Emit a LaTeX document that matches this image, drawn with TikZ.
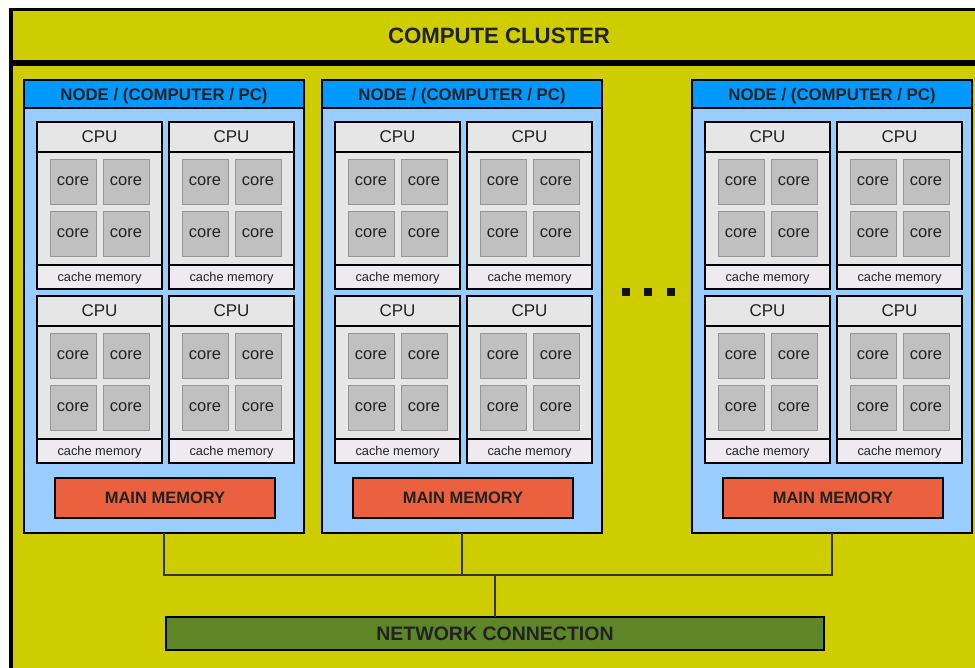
\documentclass[tikz,border=0pt]{standalone}
\usepackage{fontspec}
\setmainfont{Liberation Sans}
\definecolor{clyellow}{RGB}{205,205,0}
\definecolor{nodebody}{RGB}{153,204,255}
\definecolor{nodehead}{RGB}{0,153,255}
\definecolor{cpugray}{RGB}{230,230,230}
\definecolor{coregray}{RGB}{192,192,192}
\definecolor{coreline}{RGB}{150,150,150}
\definecolor{cachefill}{RGB}{238,234,240}
\definecolor{memfill}{RGB}{235,97,64}
\definecolor{netfill}{RGB}{94,133,38}
\definecolor{txt}{RGB}{34,34,34}
\definecolor{wire}{RGB}{51,51,51}
\begin{document}
\begin{tikzpicture}[x=1pt,y=-1pt,
  every node/.style={inner sep=0pt, outer sep=0pt, text=txt},
  titletext/.style={font=\fontsize{22.2}{26}\selectfont\bfseries},
  nodebox/.style={draw=black, line width=2, fill=nodebody, rectangle, anchor=north west},
  nodehd/.style={draw=black, line width=2, fill=nodehead, rectangle, anchor=north west, text depth=0pt, font=\fontsize{16.8}{20}\selectfont\bfseries},
  cpuhd/.style={draw=black, line width=2.6, fill=cpugray, rectangle, anchor=north west, minimum width=125, minimum height=30, font=\fontsize{17}{20}\selectfont},
  cpubody/.style={draw=black, line width=2.6, fill=cpugray, rectangle, anchor=north west, minimum width=125, minimum height=113},
  cachebox/.style={draw=black, line width=2.6, fill=cachefill, rectangle, anchor=north west, minimum width=125, minimum height=24, text depth=0pt, font=\fontsize{12.8}{15}\selectfont},
  corebox/.style={draw=coreline, line width=1, fill=coregray, rectangle, anchor=north west, minimum width=46, minimum height=45, font=\fontsize{16.5}{19}\selectfont},
  membox/.style={draw=black, line width=2, fill=memfill, rectangle, anchor=north west, minimum width=220, minimum height=40, font=\fontsize{16.5}{19}\selectfont\bfseries},
  netbox/.style={draw=black, line width=2, fill=netfill, rectangle, anchor=north west, minimum width=658, minimum height=33, font=\fontsize{19.5}{22}\selectfont\bfseries},
  dotsq/.style={fill=black!93, rectangle, minimum width=8, minimum height=8},
  wireline/.style={draw=wire, line width=2}
]
\useasboundingbox (0,0) rectangle (975,667);
\fill[white] (0,0) rectangle (975,667);
\begin{scope}
\clip (0,0) rectangle (975,667);
\fill[clyellow] (11,9.5) rectangle (1000,700);
\draw[line width=3.5] (11,9.5) rectangle (1000,700);
\draw[line width=5.7] (11,63) -- (1000,63);
\node[titletext] (title) at (499,36) {COMPUTE CLUSTER};

\foreach \k/\dx in {1/0, 2/298, 3/668} {
  \node[nodebox, minimum width=280, minimum height=453] (N\k) at (24+\dx,80) {};
  \node[nodehd, minimum width=280, minimum height=28] (H\k) at (24+\dx,80) {NODE / (COMPUTER / PC)};
  \foreach \r/\cy in {1/122, 2/296} {
    \foreach \c/\cx in {1/37, 2/169} {
      \node[cpubody] (B\k\r\c) at (\cx+\dx,\cy+30) {};
      \node[cpuhd] (C\k\r\c) at (\cx+\dx,\cy) {CPU};
      \node[cachebox] (Q\k\r\c) at (\cx+\dx,\cy+143) {cache memory};
      \foreach \a/\ox in {1/13, 2/66} {
        \foreach \b/\oy in {1/37, 2/89} {
          \node[corebox] (K\k\r\c\a\b) at (\cx+\dx+\ox,\cy+\oy) {core};
        }
      }
    }
  }
  \node[membox] (M\k) at (55+\dx,478) {MAIN MEMORY};
}

\node[dotsq] (d1) at (626,292) {};
\node[dotsq] (d2) at (648,292) {};
\node[dotsq] (d3) at (671,292) {};

\node[netbox] (net) at (166,617) {NETWORK CONNECTION};
\coordinate (J) at (495,575);
\draw[wireline] (N1.south) |- (J);
\draw[wireline] (N3.south) |- (J);
\draw[wireline] (N2.south) -- (N2.south |- J);
\draw[wireline] (J) -- (net.north);
\end{scope}
\end{tikzpicture}
\end{document}
